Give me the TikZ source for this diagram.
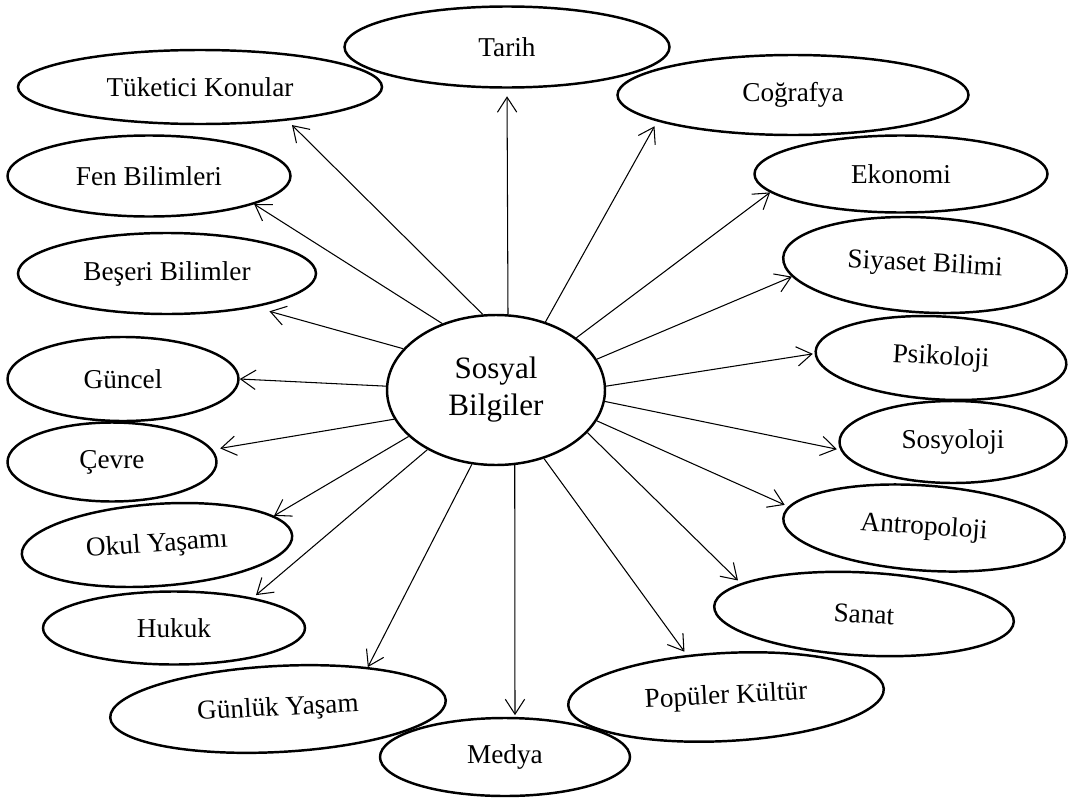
\documentclass[tikz,border=0pt]{standalone}
\usepackage{fontspec}
\setmainfont{Liberation Serif}
\usepackage{tikz}
\usetikzlibrary{shapes}
\usetikzlibrary{arrows.meta}
\tikzset{
    Node/.style = {ellipse, draw=black, align=center, line width=1.4pt, inner sep=0pt}
}
\tikzset{
    Edge/.style = {draw=black, line width=0.6pt, -{Straight Barb[length=8.5pt,width=11pt]}}
}

\begin{document}
\begin{tikzpicture}[
    font=\fontsize{15.5}{18}\selectfont
]
\useasboundingbox (0,0) rectangle (21.36,-15.96);

\node[Node, minimum width=4.36cm, minimum height=3.00cm, font=\fontsize{17.7}{21}\selectfont] at (9.92,-7.80) (sb) {Sosyal\\Bilgiler};
\node[Node, minimum width=6.50cm, minimum height=1.62cm] at (10.14,-0.94) (tarih) {Tarih};
\node[Node, minimum width=7.28cm, minimum height=1.48cm] at (4.00,-1.74) (tuketici) {Tüketici Konular};
\node[Node, minimum width=5.66cm, minimum height=1.62cm] at (2.98,-3.52) (fen) {Fen Bilimleri};
\node[Node, minimum width=5.96cm, minimum height=1.62cm] at (3.34,-5.47) (beseri) {Beşeri Bilimler};
\node[Node, minimum width=4.62cm, minimum height=1.68cm] at (2.46,-7.58) (guncel) {Güncel};
\node[Node, minimum width=4.18cm, minimum height=1.58cm] at (2.24,-9.24) (cevre) {Çevre};
\node[Node, minimum width=5.42cm, minimum height=1.64cm, rotate=4] at (3.14,-10.90) (okul) {Okul Yaşamı};
\node[Node, minimum width=5.24cm, minimum height=1.46cm] at (3.48,-12.56) (hukuk) {Hukuk};
\node[Node, minimum width=6.72cm, minimum height=1.72cm, rotate=3] at (5.56,-14.18) (gunluk) {Günlük Yaşam};
\node[Node, minimum width=5.00cm, minimum height=1.56cm] at (10.10,-15.14) (medya) {Medya};
\node[Node, minimum width=6.32cm, minimum height=1.76cm, rotate=3] at (14.52,-13.94) (populer) {Popüler Kültür};
\node[Node, minimum width=6.00cm, minimum height=1.66cm, rotate=-3] at (17.28,-12.28) (sanat) {Sanat};
\node[Node, minimum width=5.64cm, minimum height=1.70cm, rotate=-4] at (18.48,-10.56) (antropoloji) {Antropoloji};
\node[Node, minimum width=4.54cm, minimum height=1.64cm] at (19.06,-8.84) (sosyoloji) {Sosyoloji};
\node[Node, minimum width=5.02cm, minimum height=1.66cm, rotate=-3] at (18.82,-7.16) (psikoloji) {Psikoloji};
\node[Node, minimum width=5.68cm, minimum height=1.90cm, rotate=-3] at (18.50,-5.30) (siyaset) {Siyaset Bilimi};
\node[Node, minimum width=5.86cm, minimum height=1.54cm] at (18.02,-3.48) (ekonomi) {Ekonomi};
\node[Node, minimum width=7.02cm, minimum height=1.60cm] at (15.86,-1.90) (cografya) {Coğrafya};

\path (sb.81.7) edge [Edge, shorten >=4.3pt] (tarih.-90);
\path (sb.100.6) edge [Edge, shorten >=3.6pt] (tuketici.-21);
\path (sb.129.7) edge [Edge] (fen.-15.2);
\path (sb.156.3) edge [Edge, shorten >=8.5pt] (beseri.-21.2);
\path (sb.178.9) edge [Edge] (guncel.0);
\path (sb.196.4) edge [Edge, shorten >=4.3pt] (cevre.7.5);
\path (sb.208.7) edge [Edge] (okul.10.4);
\path (sb.221.2) edge [Edge, shorten >=2.3pt] (hukuk.21.2);
\path (sb.252.3) edge [Edge] (gunluk.22.4);
\path (sb.284.2) edge [Edge, shorten >=1pt] (medya.76.3);
\path (sb.-55) edge [Edge, shorten >=2.3pt] (populer.130.7);
\path (sb.-25.1) edge [Edge, shorten >=2.3pt] (sanat.169.4);
\path (sb.-17.1) edge [Edge, shorten >=2.3pt] (antropoloji.175.1);
\path (sb.-6.9) edge [Edge, shorten >=2pt] (sosyoloji.184);
\path (sb.2.6) edge [Edge, shorten >=1pt] (psikoloji.181.6);
\path (sb.17.6) edge [Edge] (siyaset.188.8);
\path (sb.33.5) edge [Edge] (ekonomi.188.4);
\path (sb.54.2) edge [Edge, shorten >=3.2pt] (cografya.191);
\end{tikzpicture}
\end{document}
